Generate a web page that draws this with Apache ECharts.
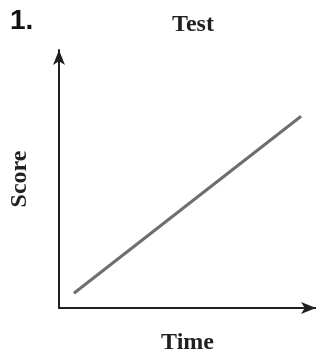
<!DOCTYPE html>
<html>
<head>
<meta charset="utf-8">
<script src="https://cdn.jsdelivr.net/npm/echarts@6/dist/echarts.min.js"></script>
<style>
  html, body { margin: 0; padding: 0; background: #fff; }
  #chart { width: 316px; height: 360px; }
</style>
</head>
<body>
<div id="chart"></div>
<script>
// values (axes run 0..10, no ticks shown)
var time = [0.58, 9.42];
var score = [0.57, 7.43];

var serif = '"Liberation Serif", "DejaVu Serif", serif';

var myChart = echarts.init(document.getElementById('chart'));
var option = {
    animation: false,
    title: [
        {
            text: '1.',
            left: 5,
            top: 2,
            textStyle: { fontFamily: '"Liberation Sans", Arial, sans-serif', fontWeight: 'bold', fontSize: 28, color: '#111' }
        },
        {
            text: 'Test',
            left: 188,
            top: 8,
            textAlign: 'center',
            textStyle: { fontFamily: serif, fontWeight: 'bold', fontSize: 24, color: '#231f20' }
        }
    ],
    grid: { left: 56, right: 0, top: 50, bottom: 49 },
    xAxis: {
        type: 'value',
        min: 0,
        max: 10,
        name: 'Time',
        nameLocation: 'middle',
        nameGap: 23,
        nameTextStyle: { fontFamily: serif, fontWeight: 'bold', fontSize: 24, color: '#231f20' },
        axisLine: { lineStyle: { color: '#231f20', width: 2 }, symbol: ['none', 'arrow'], symbolSize: [9, 15] },
        axisTick: { show: false },
        axisLabel: { show: false },
        splitLine: { show: false }
    },
    yAxis: {
        type: 'value',
        min: 0,
        max: 10,
        name: 'Score',
        nameLocation: 'middle',
        nameGap: 27,
        nameTextStyle: { fontFamily: serif, fontWeight: 'bold', fontSize: 24, color: '#231f20' },
        axisLine: { show: true, lineStyle: { color: '#231f20', width: 2 }, symbol: ['none', 'arrow'], symbolSize: [9, 15] },
        axisTick: { show: false },
        axisLabel: { show: false },
        splitLine: { show: false }
    },
    series: [
        {
            type: 'line',
            data: time.map(function (t, i) { return [t, score[i]]; }),
            showSymbol: false,
            lineStyle: { color: '#6d6e70', width: 3 }
        }
    ]
};
myChart.setOption(option);
</script>
</body>
</html>
